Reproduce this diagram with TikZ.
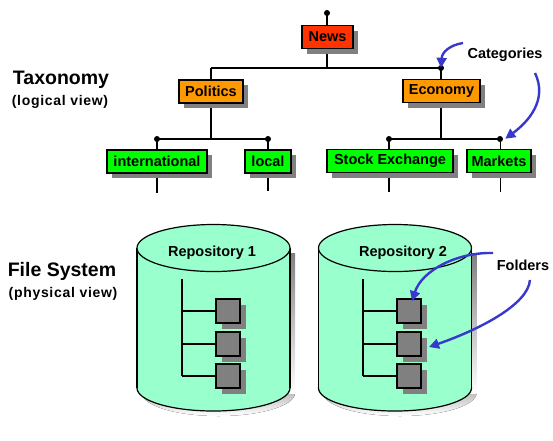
\documentclass[tikz,border=0pt]{standalone}
\usepackage{fontspec}
\setmainfont{Liberation Sans}
\newfontfamily\widesans[LetterSpace=5]{Liberation Sans}
\usetikzlibrary{shadows,arrows.meta}
\definecolor{newsred}{HTML}{FF3300}
\definecolor{catorange}{HTML}{FF9900}
\definecolor{leafgreen}{HTML}{00FF00}
\definecolor{shade}{HTML}{808080}
\definecolor{aqua}{HTML}{99FFCC}
\definecolor{arrowblue}{HTML}{3838CC}
\tikzset{
  tbox/.style={draw=black, line width=1.2pt, inner sep=0pt, minimum height=23pt,
    font=\fontsize{14.5}{16}\selectfont\bfseries,
    drop shadow={shadow xshift=5pt, shadow yshift=-5pt, fill=shade, opacity=1}},
  conn/.style={draw=black, line width=1.6pt},
  joint/.style={circle, fill=black, inner sep=0pt, minimum size=6pt},
  folder/.style={draw=black, line width=1.8pt, fill=shade, minimum size=24pt, inner sep=0pt},
  fshadow/.style={fill=shade, minimum size=24pt, inner sep=0pt},
  callout/.style={draw=arrowblue, line width=2.4pt, -{Triangle[length=10pt,width=10pt]}},
  label/.style={font=\fontsize{14.5}{16}\selectfont\bfseries},
  title/.style={font=\fontsize{19.5}{21}\selectfont\bfseries},
  subtitle/.style={font=\widesans\fontsize{14}{15}\selectfont\bfseries},
}
\begin{document}
\begin{tikzpicture}[x=1pt, y=-1pt]
\useasboundingbox (0,0) rectangle (553,440);
% ---------- taxonomy connectors ----------
\coordinate (top) at (327,13);
\coordinate (hl) at (211,68);
\coordinate (hr) at (441,68);
\coordinate (pl) at (157,139);
\coordinate (pr) at (268,139);
\coordinate (el) at (389,139);
\coordinate (er) at (500,139);
\coordinate (e1) at (157,193);
\coordinate (e2) at (268,191);
\coordinate (e3) at (389,192);
\coordinate (e4) at (500,192);
\coordinate (hm) at (327,68);
\coordinate (pm) at (211,139);
\coordinate (em) at (441,139);
\draw[conn] (top) -- (hm);
\draw[conn] (hl) -- (hr);
\draw[conn] (hl) -- (pm);
\draw[conn] (pl) -- (pr);
\draw[conn] (hr) -- (em);
\draw[conn] (el) -- (er);
\draw[conn] (pl) -- (e1);
\draw[conn] (pr) -- (e2);
\draw[conn] (el) -- (e3);
\draw[black, line width=1pt] (er) -- (e4);
% ---------- taxonomy nodes ----------
\node[tbox, fill=newsred, minimum width=51pt] (news) at (327.5,37) {News};
\node[tbox, fill=catorange, minimum width=64pt] (politics) at (211,91.5) {Politics};
\node[tbox, fill=catorange, minimum width=77pt] (economy) at (441.5,91) {Economy};
\node[tbox, fill=leafgreen, minimum width=100pt] (intl) at (157,161.5) {international};
\node[tbox, fill=leafgreen, minimum width=46pt] (local) at (268,161.5) {local};
\node[tbox, fill=leafgreen, minimum width=126pt] (stock) at (390,161) {Stock Exchange};
\node[tbox, fill=leafgreen, minimum width=64pt] (markets) at (499,161) {Markets};
\node[joint] at (top) {};
\node[joint] (jc) at (hr) {};
\node[joint] at (pl) {};
\node[joint] at (pr) {};
\node[joint] at (el) {};
\node[joint] (jm) at (er) {};
% ---------- side titles ----------
\node[title] (tax) at (61,80) {Taxonomy};
\node[subtitle] (taxs) at (60,102) {(logical view)};
\node[title] (fs) at (62,271) {File System};
\node[subtitle] (fss) at (63,294) {(physical view)};
% ---------- cylinders ----------
\foreach \cx/\nm in {213.5/1, 395/2}{
  \begin{scope}[shift={(\cx,0)}]
    % shadow
    \fill[shade] (5,393) ellipse [x radius=76.5pt, y radius=23pt];
    \fill[shade] (-71.5,253) rectangle (81.5,393);
    % bottom
    \filldraw[fill=aqua, draw=black, line width=1.2pt] (0,388) ellipse [x radius=76.5pt, y radius=23pt];
    \fill[aqua] (-76.5,248) rectangle (76.5,388);
    \draw[black, line width=1.2pt] (-76.5,248) -- (-76.5,388);
    \draw[black, line width=1.2pt] (76.5,248) -- (76.5,388);
    \filldraw[fill=aqua, draw=black, line width=1.2pt] (0,248) ellipse [x radius=76.5pt, y radius=23.5pt];
  \end{scope}
}
\node[label] (repo1) at (212,253) {Repository 1};
\node[label] (repo2) at (403,253) {Repository 2};
% ---------- folder trees ----------
\foreach \vx/\bx/\k in {182/228/a, 363/409/b}{
  \coordinate (v\k t) at (\vx,279);
  \coordinate (v\k 1) at (\vx,311);
  \coordinate (v\k 2) at (\vx,344);
  \coordinate (v\k 3) at (\vx,376);
  \foreach \yy/\i in {311/1, 344/2, 376/3}{
    \node[fshadow] at (\bx+6,\yy+6) {};
  }
  \draw[black, line width=1.8pt] (v\k t) -- (v\k 3);
  \foreach \yy/\i in {311/1, 344/2, 376/3}{
    \node[folder] (f\k\i) at (\bx,\yy) {};
    \draw[black, line width=1.6pt] (v\k\i) -- (f\k\i.west);
  }
}
% ---------- callouts ----------
\node[label] (cat) at (505,55) {Categories};
\node[label] (fold) at (523,265) {Folders};
\coordinate (c1s) at (463,43);
\coordinate (c2s) at (535,73);
\coordinate (f1s) at (493,253);
\coordinate (f2s) at (530,280);
\draw[callout] (c1s) .. controls (450,45) and (442,52) .. ([yshift=-3pt]jc.north);
\draw[callout] (c2s) .. controls (548,100) and (528,122) .. ([xshift=3pt,yshift=-2pt]jm.north east);
\draw[callout] (f1s) .. controls (458,252) and (422,270) .. ([xshift=3pt,yshift=-3pt]fb1.north);
\draw[callout] (f2s) .. controls (528,305) and (478,330) .. (429,347);
\end{tikzpicture}
\end{document}
